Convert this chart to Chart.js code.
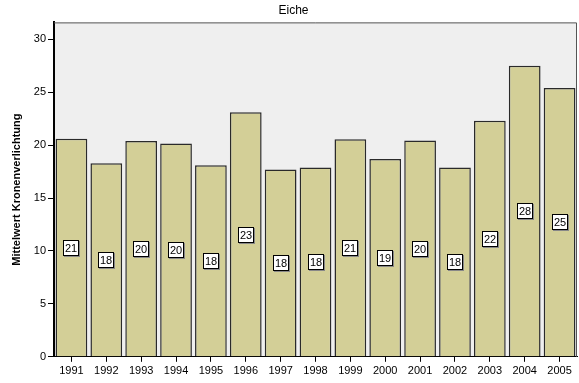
<!DOCTYPE html>
<html>
<head>
<meta charset="utf-8">
<script src="https://cdn.jsdelivr.net/npm/chart.js@4/dist/chart.umd.min.js"></script>
<style>
  html, body { margin: 0; padding: 0; background: #fff; }
  #wrap { width: 579px; height: 383px; }
</style>
</head>
<body>
<div id="wrap"><canvas id="chart" width="579" height="383"></canvas></div>
<script>
const years = ['1991', '1992', '1993', '1994', '1995', '1996', '1997', '1998',
               '1999', '2000', '2001', '2002', '2003', '2004', '2005'];
const meanDefoliation = [20.6, 18.3, 20.4, 20.15, 18.1, 23.1, 17.7, 17.9,
                         20.55, 18.7, 20.45, 17.9, 22.3, 27.5, 25.4];
const yTicks = [0, 5, 10, 15, 20, 25, 30];

const FONT = 'Liberation Sans, Arial, sans-serif';

// grey plot background plus thin frame on top/right
const plotFrame = {
    id: 'plotFrame',
    beforeDraw(chart) {
        const { ctx, chartArea: a } = chart;
        ctx.save();
        ctx.fillStyle = '#efefef';
        ctx.fillRect(a.left, a.top, a.right - a.left, a.bottom - a.top);
        ctx.restore();
    },
    afterDraw(chart) {
        const { ctx, chartArea: a } = chart;
        ctx.save();
        ctx.strokeStyle = '#555';
        ctx.lineWidth = 1;
        ctx.beginPath();
        ctx.moveTo(a.left, a.top + 0.5);
        ctx.lineTo(a.right - 0.5, a.top + 0.5);
        ctx.lineTo(a.right - 0.5, a.bottom);
        ctx.stroke();
        ctx.restore();
    }
};

// rounded mean in a small white box at half bar height
const boxLabels = {
    id: 'boxLabels',
    afterDatasetsDraw(chart) {
        const { ctx } = chart;
        const yScale = chart.scales.y;
        const meta = chart.getDatasetMeta(0);
        ctx.save();
        ctx.font = '11px ' + FONT;
        ctx.textAlign = 'center';
        ctx.textBaseline = 'middle';
        meta.data.forEach((bar, i) => {
            const v = meanDefoliation[i];
            const text = String(Math.round(v));
            const cx = Math.round(bar.x);
            const cy = Math.round(yScale.getPixelForValue(v / 2));
            const w = 16, h = 16;
            const x0 = cx - w / 2, y0 = cy - h / 2;
            ctx.fillStyle = '#888';
            ctx.fillRect(x0 + 1, y0 + 1, w, h);
            ctx.fillStyle = '#fff';
            ctx.fillRect(x0, y0, w, h);
            ctx.strokeStyle = '#000';
            ctx.lineWidth = 1;
            ctx.strokeRect(x0 + 0.5, y0 + 0.5, w - 1, h - 1);
            ctx.fillStyle = '#000';
            ctx.fillText(text, cx, cy + 1);
        });
        ctx.restore();
    }
};

new Chart(document.getElementById('chart'), {
    type: 'bar',
    data: {
        labels: years,
        datasets: [{
            data: meanDefoliation,
            backgroundColor: '#d3cf97',
            borderColor: '#2a2a2a',
            borderWidth: 1.5,
            borderSkipped: 'bottom',
            barPercentage: 0.91,
            categoryPercentage: 1.0
        }]
    },
    options: {
        responsive: false,
        animation: false,
        layout: { padding: { left: 10, right: 2, top: 0, bottom: 2 } },
        plugins: {
            legend: { display: false },
            tooltip: { enabled: false },
            title: {
                display: true,
                text: 'Eiche',
                color: '#000',
                font: { family: FONT, size: 12, weight: 'normal' },
                padding: { top: 3, bottom: 5 }
            }
        },
        scales: {
            x: {
                grid: { display: true, offset: false, drawOnChartArea: false, drawTicks: true, tickLength: 5, color: '#000' },
                border: { display: true, color: '#000', width: 1 },
                ticks: { color: '#000', font: { family: FONT, size: 11 }, maxRotation: 0, autoSkip: false, padding: 3 }
            },
            y: {
                min: 0,
                max: 31.6,
                afterBuildTicks(scale) {
                    scale.ticks = yTicks.map(v => ({ value: v }));
                },
                afterFit(scale) { scale.width = 44; },
                grid: { display: true, drawOnChartArea: false, drawTicks: true, tickLength: 6, color: '#000' },
                border: { display: true, color: '#000', width: 2 },
                ticks: { color: '#000', font: { family: FONT, size: 11 }, padding: 2 },
                title: {
                    display: true,
                    text: 'Mittelwert Kronenverlichtung',
                    color: '#000',
                    font: { family: FONT, size: 11, weight: 'bold' },
                    padding: { top: 0, bottom: 8 }
                }
            }
        }
    },
    plugins: [plotFrame, boxLabels]
});
</script>
</body>
</html>
